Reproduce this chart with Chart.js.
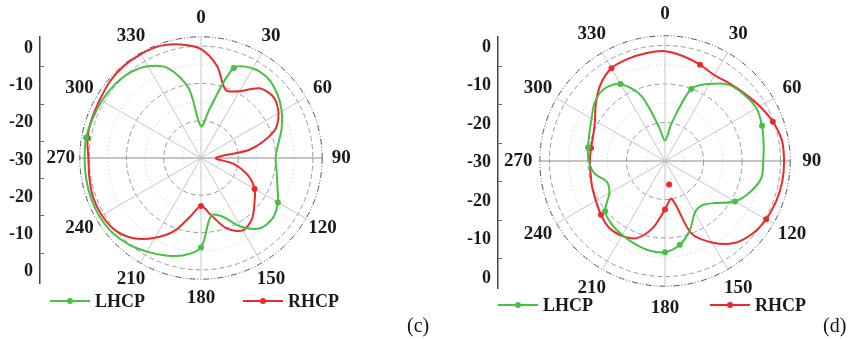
<!DOCTYPE html>
<html>
<head>
<meta charset="utf-8">
<script src="https://cdn.jsdelivr.net/npm/chart.js@4.4.1/dist/chart.umd.min.js"></script>
<style>
	html, body { margin: 0; padding: 0; background: #fff; overflow: hidden; }
	#page { position: relative; width: 856px; height: 340px; overflow: hidden; }
	canvas { position: absolute; top: 0; }
	.legend-item { position: absolute; display: flex; align-items: center; height: 20px; white-space: nowrap;
		font: bold 18px "Liberation Serif", "Times New Roman", serif; color: #1a1a1a; }
	.swatch { position: relative; width: 40px; height: 2px; margin-right: 5px; }
	.swatch i { position: absolute; left: 17px; top: -2px; width: 6px; height: 6px; border-radius: 50%; }
	.tag { position: absolute; font: 20px "Liberation Serif", "Times New Roman", serif; color: #111; line-height: 24px; }
</style>
</head>
<body>
<div id="page">
	<canvas id="axis-c" width="44" height="340" style="left:0px"></canvas>
	<canvas id="polar-c" width="402" height="340" style="left:0px"></canvas>
	<canvas id="axis-d" width="44" height="340" style="left:458px"></canvas>
	<canvas id="polar-d" width="390" height="340" style="left:470px"></canvas>
	<div id="legend-c"></div>
	<div id="legend-d"></div>
	<span class="tag" style="left:407px;top:313px">(c)</span>
	<span class="tag" style="left:823px;top:313px">(d)</span>
</div>
<script>
const angleLabels = ['0', '10', '20', '30', '40', '50', '60', '70', '80', '90', '100', '110',
	'120', '130', '140', '150', '160', '170', '180', '190', '200', '210', '220', '230',
	'240', '250', '260', '270', '280', '290', '300', '310', '320', '330', '340', '350'];

// (c) gain in dB, one value every 10 degrees
const lhcpC = [-21.5, -16.5, -4.3, -2.3, -2.1, -3.3, -5.0, -7.0, -9.0, -10.0, -9.4, -8.2,
	-6.2, -4.9, -5.4, -8.8, -13.3, -14.3, -6.0, -3.5, -2.2, -1.0, 0.2, 1.1,
	1.4, 1.4, 1.3, 1.2, 1.3, 0.9, 0.7, 0.4, -0.2, -1.6, -4.4, -11.0];
const rhcpC = [-0.8, -5.0, -10.6, -9.3, -5.6, -4.6, -6.0, -9.2, -16.5, -26.0, -21.1, -16.7,
	-13.4, -11.3, -8.7, -7.6, -9.9, -14.4, -17.1, -14.2, -9.2, -5.3, -1.9, 0.1,
	0.7, 0.8, 0.4, 0.2, 0.9, 1.1, 1.3, 1.9, 2.2, 2.2, 2.0, 0.9];

// (d)
const lhcpD = [-24.7, -20.0, -10.1, -6.9, -4.2, -3.2, -2.6, -3.2, -4.0, -4.5, -4.6, -6.5,
	-9.0, -13.0, -15.0, -14.5, -11.0, -7.9, -6.3, -6.4, -7.1, -7.8, -8.5, -9.7,
	-13.3, -14.0, -11.4, -10.2, -9.7, -9.1, -8.0, -6.2, -5.5, -6.9, -12.0, -21.0];
const rhcpD = [-1.5, -2.4, -3.4, -4.3, -3.8, -2.9, -1.6, -0.2, 0.8, 0.9, 0.9, 0.7,
	0.3, -0.5, -2.2, -5.6, -10.0, -20.0, -17.4, -12.5, -8.7, -7.6, -7.4, -8.3,
	-9.3, -9.9, -10.4, -10.5, -10.5, -10.2, -9.0, -6.6, -4.0, -2.2, -1.8, -1.6];
const strayAngleD = 170;
const strayValueD = -23.8;

// angles that carry a symbol
const lhcpMarksC = [20, 120, 180, 280];
const rhcpMarksC = [120, 180, 280];
const lhcpMarksD = [20, 70, 120, 170, 180, 230, 280, 330];
const rhcpMarksD = [20, 70, 120, 180, 230, 280, 330];

const GREEN = "#46c046";
const RED = "#ec2a2a";
const SERIF = "'Liberation Serif', 'Times New Roman', serif";
const LABEL_SIZE = 19;
const LABEL_LH = LABEL_SIZE * 1.2;

function markerRadius(angles) {
	return (ctx) => angles.includes(Number(angleLabels[ctx.dataIndex])) ? 3 : 0;
}

function ringStyle(v) {
	if (v === 2.5) return { color: "#555", width: 1, dash: [6, 2, 1, 2, 1, 2] };
	if (v % 10 === 0) return { color: "#9a9a9a", width: 1, dash: [5, 3] };
	if (Math.abs(v % 10) === 5) return { color: "#c2c2c2", width: 1, dash: [1, 3] };
	return { color: "rgba(0,0,0,0)", width: 0, dash: [] };
}

// put the angle labels centred on a circle just outside the plot, like the original
function centerAngleLabels(offset) {
	return (scale) => {
		const items = scale._pointLabelItems || [];
		items.forEach((item, i) => {
			if (i % 3 !== 0) return;
			const p = scale.getPointPosition(i, scale.drawingArea + offset);
			const w = item.right - item.left;
			item.x = p.x;
			item.y = p.y - LABEL_LH / 2;
			item.textAlign = "center";
			item.left = p.x - w / 2;
			item.right = p.x + w / 2;
			item.top = item.y;
			item.bottom = item.y + LABEL_LH;
		});
	};
}

function polarChart(id, lhcp, rhcp, lMarks, rMarks, extra, padTop, padBottom, labelOffset) {
	const datasets = [
		{
			label: "LHCP",
			data: lhcp,
			borderColor: GREEN,
			backgroundColor: GREEN,
			pointBackgroundColor: GREEN,
			pointBorderWidth: 0,
			pointRadius: markerRadius(lMarks),
			borderWidth: 2,
			fill: false,
		},
		{
			label: "RHCP",
			data: rhcp,
			borderColor: RED,
			backgroundColor: RED,
			pointBackgroundColor: RED,
			pointBorderWidth: 0,
			pointRadius: markerRadius(rMarks),
			borderWidth: 2,
			fill: false,
		},
	];
	if (extra) {
		datasets.push({
			label: "",
			data: angleLabels.map((a) => (Number(a) === extra.angle ? extra.value : null)),
			showLine: false,
			pointBackgroundColor: RED,
			pointBorderWidth: 0,
			pointRadius: 3,
		});
	}
	return new Chart(document.getElementById(id), {
		type: "radar",
		data: { labels: angleLabels, datasets: datasets },
		options: {
			responsive: false,
			animation: false,
			layout: { padding: { top: padTop, bottom: padBottom, left: 0, right: 0 } },
			elements: { line: { tension: 0.3 } },
			plugins: {
				legend: { display: false },
				tooltip: { enabled: false },
			},
			scales: {
				r: {
					min: -30,
					max: 2.5,
					afterFit: centerAngleLabels(labelOffset),
					ticks: { display: false, stepSize: 2.5 },
					grid: {
						circular: true,
						color: (ctx) => ringStyle(ctx.tick ? ctx.tick.value : NaN).color,
						lineWidth: (ctx) => ringStyle(ctx.tick ? ctx.tick.value : NaN).width,
					},
					border: {
						dash: (ctx) => ringStyle(ctx.tick ? ctx.tick.value : NaN).dash,
					},
					angleLines: {
						color: (ctx) => (ctx.index % 18 === 9 ? "#8a8a8a" : "#c6c6c6"),
						lineWidth: (ctx) => (ctx.index % 3 === 0 ? 1 : 0),
					},
					pointLabels: {
						callback: (label, i) => (i % 3 === 0 ? label : ""),
						padding: 9,
						color: "#1a1a1a",
						font: { family: SERIF, weight: "bold", size: LABEL_SIZE },
					},
				},
			},
		},
	});
}

function axisChart(id, maxVal, padTop, padBottom) {
	return new Chart(document.getElementById(id), {
		type: "scatter",
		data: { datasets: [] },
		options: {
			responsive: false,
			animation: false,
			layout: { padding: { top: padTop, bottom: padBottom, left: 0, right: 0 } },
			plugins: { legend: { display: false }, tooltip: { enabled: false } },
			scales: {
				x: { display: false },
				y: {
					min: -maxVal,
					max: maxVal,
					afterFit: (scale) => { scale.width = 40; },
					border: { display: true, color: "#444", width: 1.5 },
					grid: {
						drawTicks: false,
						drawOnChartArea: true,
						color: (ctx) => (ctx.tick && Math.abs(ctx.tick.value % 10) === 5 ? "#666" : "rgba(0,0,0,0)"),
					},
					ticks: {
						stepSize: 5,
						includeBounds: false,
						autoSkip: false,
						padding: 7,
						color: "#1a1a1a",
						font: { family: SERIF, weight: "bold", size: 18 },
						// the axis reads 0 .. -30 .. 0 from top to bottom
						callback: (v) => (v % 10 === 0 ? String(Math.abs(v) - 30) : ""),
					},
				},
			},
		},
	});
}

function htmlLegend(chart, containerId, lefts, top) {
	const box = document.getElementById(containerId);
	const items = Chart.defaults.plugins.legend.labels.generateLabels(chart).filter((it) => it.text);
	items.forEach((it, i) => {
		const el = document.createElement("div");
		el.className = "legend-item";
		el.style.left = lefts[i] + "px";
		el.style.top = top + "px";
		const sw = document.createElement("span");
		sw.className = "swatch";
		sw.style.background = it.strokeStyle;
		const dot = document.createElement("i");
		dot.style.background = it.strokeStyle;
		sw.appendChild(dot);
		el.appendChild(sw);
		el.appendChild(document.createTextNode(it.text));
		box.appendChild(el);
	});
}

axisChart("axis-c", 33, 37, 57);
axisChart("axis-d", 32.6, 37, 52);
const chartC = polarChart("polar-c", lhcpC, rhcpC, lhcpMarksC, rhcpMarksC, null, 6, 28, 19);
const chartD = polarChart("polar-d", lhcpD, rhcpD, lhcpMarksD, rhcpMarksD,
	{ angle: strayAngleD, value: strayValueD }, 5, 21, 21.5);
htmlLegend(chartC, "legend-c", [50, 243], 291);
htmlLegend(chartD, "legend-d", [498, 710], 295);
</script>
</body>
</html>
